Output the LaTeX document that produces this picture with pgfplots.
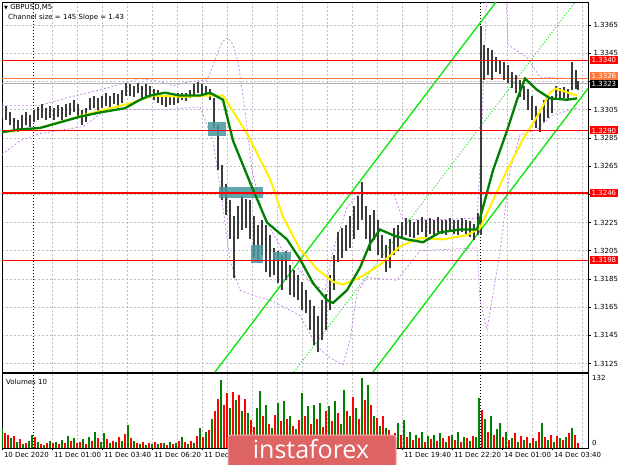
\documentclass[border=0pt]{standalone}
\usepackage{pgfplots}
\usepackage{pgfplotstable}
\pgfplotsset{compat=1.18}
\usepackage{fontspec}
\setmainfont{DejaVu Sans}
\newfontfamily\logofont{Open Sans}
\newcommand\fs{\fontsize{7}{8}\selectfont}

\definecolor{mag}{RGB}{0,128,0}
\definecolor{may}{RGB}{255,240,0}
\definecolor{chg}{RGB}{20,230,20}
\definecolor{bb}{RGB}{195,130,235}
\definecolor{barc}{RGB}{60,60,60}
\definecolor{tealbox}{RGB}{72,152,158}
\definecolor{lvl}{RGB}{255,0,0}
\definecolor{ora}{RGB}{255,120,60}
\definecolor{vg}{RGB}{0,128,0}
\definecolor{vr}{RGB}{255,0,0}
\definecolor{logo}{RGB}{222,100,100}

% price bars: x = pixel offset from left edge, high / low
\pgfplotstableread{
x hi lo
0 1.3310 1.3299
4 1.3308 1.3298
8 1.3303 1.3294
12 1.3299 1.3291
16 1.3298 1.3289
20 1.3301 1.3292
24 1.3303 1.3294
28 1.3301 1.3293
32 1.3305 1.3296
36 1.3307 1.3298
40 1.3309 1.3299
44 1.3306 1.3298
48 1.3308 1.3299
52 1.3306 1.3298
56 1.3308 1.3300
60 1.3307 1.3298
64 1.3309 1.3300
68 1.3310 1.3301
72 1.3312 1.3303
76 1.3309 1.3300
80 1.3305 1.3294
84 1.3306 1.3296
88 1.3313 1.3305
92 1.3315 1.3306
96 1.3313 1.3303
100 1.3315 1.3306
104 1.3317 1.3308
108 1.3315 1.3307
112 1.3317 1.3309
116 1.3316 1.3308
120 1.3319 1.3310
124 1.3324 1.3315
128 1.3323 1.3315
132 1.3322 1.3314
136 1.3324 1.3317
140 1.3322 1.3313
144 1.3323 1.3315
148 1.3322 1.3313
152 1.3320 1.3312
156 1.3319 1.3310
160 1.3315 1.3308
164 1.3314 1.3307
168 1.3315 1.3308
172 1.3315 1.3308
176 1.3317 1.3310
180 1.3317 1.3312
184 1.3317 1.3311
188 1.3319 1.3313
192 1.3323 1.3315
196 1.3325 1.3317
200 1.3323 1.3316
204 1.3322 1.3315
208 1.3320 1.3312
212 1.3313 1.3292
216 1.3294 1.3262
220 1.3266 1.3241
224 1.3252 1.3230
228 1.3241 1.3213
232 1.3230 1.3186
236 1.3237 1.3213
240 1.3244 1.3220
244 1.3242 1.3221
248 1.3241 1.3213
252 1.3230 1.3200
256 1.3223 1.3197
260 1.3227 1.3202
264 1.3223 1.3190
268 1.3216 1.3186
272 1.3207 1.3188
276 1.3205 1.3182
280 1.3202 1.3177
284 1.3205 1.3184
288 1.3195 1.3174
292 1.3191 1.3172
296 1.3188 1.3170
300 1.3183 1.3163
304 1.3177 1.3161
308 1.3170 1.3149
312 1.3166 1.3138
316 1.3159 1.3133
320 1.3170 1.3142
324 1.3174 1.3149
328 1.3188 1.3163
332 1.3202 1.3177
336 1.3218 1.3197
340 1.3221 1.3200
344 1.3223 1.3205
348 1.3230 1.3207
352 1.3237 1.3213
356 1.3244 1.3220
360 1.3254 1.3227
364 1.3237 1.3213
368 1.3230 1.3205
372 1.3234 1.3213
376 1.3227 1.3202
380 1.3216 1.3200
384 1.3209 1.3190
388 1.3213 1.3193
392 1.3221 1.3202
396 1.3223 1.3205
400 1.3225 1.3214
404 1.3228 1.3216
408 1.3227 1.3215
412 1.3225 1.3214
416 1.3227 1.3216
420 1.3229 1.3218
424 1.3227 1.3215
428 1.3228 1.3217
432 1.3227 1.3215
436 1.3229 1.3218
440 1.3227 1.3217
444 1.3227 1.3216
448 1.3228 1.3218
452 1.3227 1.3217
456 1.3227 1.3216
460 1.3228 1.3218
464 1.3227 1.3217
468 1.3226 1.3215
472 1.3224 1.3213
476 1.3232 1.3216
479 1.3364 1.3216
482 1.3351 1.3326
486 1.3349 1.3330
490 1.3347 1.3326
494 1.3342 1.3332
498 1.3340 1.3330
502 1.3339 1.3326
506 1.3337 1.3324
510 1.3332 1.3320
514 1.3330 1.3317
518 1.3326 1.3314
522 1.3322 1.3312
526 1.3320 1.3305
530 1.3315 1.3298
534 1.3308 1.3292
538 1.3303 1.3289
542 1.3312 1.3296
546 1.3313 1.3299
550 1.3315 1.3303
554 1.3322 1.3312
558 1.3320 1.3313
562 1.3321 1.3313
566 1.3320 1.3312
570 1.3339 1.3319
574 1.3333 1.3320
576 1.3325 1.3319
}\bars

\pgfplotstableread{
x y
0 1.3289
18 1.3291
38 1.3292
58 1.3296
78 1.3300
98 1.3303
123 1.3306
138 1.3312
148 1.3315
163 1.3317
178 1.3315
198 1.3315
208 1.3317
213 1.3315
221 1.3312
231 1.3283
250 1.3250
265 1.3225
285 1.3213
298 1.3199
311 1.3182
325 1.3170
331 1.3168
345 1.3177
358 1.3193
368 1.3210
378 1.3220
391 1.3216
405 1.3213
421 1.3211
438 1.3218
458 1.3220
475 1.3220
491 1.3262
505 1.3290
515 1.3312
523 1.3327
535 1.3319
548 1.3313
565 1.3312
575 1.3313
}\magreen

\pgfplotstableread{
x y
0 1.3289
38 1.3292
81 1.3301
131 1.3310
151 1.3315
181 1.3314
205 1.3315
221 1.3315
245 1.3288
268 1.3256
281 1.3229
298 1.3206
315 1.3192
331 1.3183
341 1.3181
358 1.3186
378 1.3195
398 1.3208
418 1.3214
441 1.3213
465 1.3216
478 1.3221
505 1.3262
521 1.3284
535 1.3300
548 1.3317
553 1.3320
575 1.3315
}\mayellow

\pgfplotstableread{
x y
0 1.3308
38 1.3308
68 1.3314
98 1.3319
138 1.3327
158 1.3325
171 1.3322
188 1.3325
205 1.3326
213 1.3340
220 1.3353
226 1.3356
231 1.3351
236 1.3339
243 1.3305
250 1.3262
261 1.3230
283 1.3202
311 1.3181
323 1.3177
331 1.3205
345 1.3236
358 1.3246
391 1.3246
401 1.3227
438 1.3227
475 1.3228
479 1.3276
483 1.3354
486 1.3404
503 1.3404
506 1.3351
525 1.3342
538 1.3328
575 1.3327
}\bbup

\pgfplotstableread{
x y
0 1.3273
18 1.3283
38 1.3288
81 1.3293
108 1.3307
131 1.3305
165 1.3305
198 1.3307
211 1.3283
220 1.3241
228 1.3198
238 1.3177
248 1.3174
268 1.3170
298 1.3159
315 1.3137
328 1.3129
341 1.3124
348 1.3142
355 1.3175
365 1.3186
395 1.3184
418 1.3205
475 1.3207
478 1.3170
485 1.3149
498 1.3204
508 1.3262
518 1.3287
535 1.3291
550 1.3301
575 1.3306
}\bblow

% volumes: x, value, colour (1 green, 0 red)
\pgfplotstableread{
x v c
0 38 1
3 28 0
6 25 0
9 18 1
12 22 0
15 12 1
18 16 0
21 8 1
24 10 0
27 14 1
30 24 1
33 20 0
36 12 1
39 8 0
42 6 1
45 10 0
48 14 1
51 9 0
54 12 1
57 8 0
60 15 1
63 10 0
66 22 1
69 14 0
72 18 1
75 9 0
78 12 0
81 16 1
84 8 0
87 20 1
90 14 0
93 30 1
96 18 0
99 12 1
102 28 1
105 16 0
108 10 1
111 14 0
114 12 1
117 20 0
120 14 1
123 26 0
126 44 1
129 18 0
132 14 1
135 10 0
138 8 1
141 12 0
144 6 1
147 10 0
150 8 1
153 12 0
156 7 1
159 10 0
162 9 1
165 6 0
168 12 1
171 8 0
174 10 1
177 14 0
180 20 1
183 11 0
186 8 1
189 14 0
192 10 1
195 22 0
198 38 1
201 20 0
204 30 1
207 34 0
210 55 1
213 70 0
216 92 0
219 128 1
222 80 0
225 104 0
228 75 1
231 105 0
234 90 1
237 100 0
240 70 1
243 92 0
246 66 1
249 53 0
252 40 0
255 75 1
258 107 1
261 60 0
264 81 1
267 45 0
270 38 1
273 62 0
276 85 1
279 50 0
282 89 1
285 55 0
288 60 1
291 42 0
294 35 1
297 53 0
300 104 1
303 60 0
306 79 1
309 45 0
312 81 1
315 55 0
318 85 1
321 40 0
324 70 0
327 79 1
330 50 0
333 88 1
336 65 0
339 45 1
342 109 1
345 70 0
348 60 1
351 95 0
354 75 1
357 55 0
360 132 1
363 90 0
366 119 1
369 80 0
372 60 1
375 57 0
378 42 1
381 60 0
384 38 1
387 34 0
390 20 1
393 28 0
396 47 1
399 25 0
402 53 1
405 20 0
408 30 1
411 15 0
414 25 1
417 18 0
420 30 1
423 12 0
426 22 1
429 16 0
432 25 1
435 14 0
438 28 1
441 18 0
444 12 1
447 22 0
450 25 1
453 15 0
456 30 1
459 12 0
462 20 1
465 18 0
468 14 1
471 22 0
474 20 1
477 94 1
480 72 0
483 55 1
486 30 0
489 60 1
492 25 0
495 35 1
498 47 1
501 20 0
504 30 1
507 15 0
510 18 1
513 28 0
516 12 1
519 22 0
522 15 1
525 20 0
528 10 1
531 18 0
534 14 1
537 30 0
540 47 1
543 20 0
546 15 1
549 25 0
552 12 1
555 22 0
558 18 1
561 15 0
564 20 1
567 28 0
570 38 1
573 25 0
576 10 0
}\vol

\pgfplotsset{
  chart/.style={scale only axis, width=586pt, xmin=0, xmax=586,
    axis line style={black, line width=0.6pt},
    tick style={black, line width=0.5pt},
    grid style={gray!50, dash pattern=on 2pt off 2pt, line width=0.5pt},
    tick align=outside},
}

\begin{document}
\begin{tikzpicture}
\useasboundingbox[fill=white] (0,0) rectangle (620pt,-465pt);

% ---- price panel ----
\begin{axis}[chart, at={(2pt,-372pt)}, anchor=south west, height=370pt,
  ymin=1.31190, ymax=1.33813,
  xtick={50,75,...,450,505,530,555,580}, xticklabels={}, xtick style={draw=none},
  xmajorgrids, ymajorgrids,
  ytick={1.3125,1.3145,1.3165,1.3185,1.3205,1.3225,1.3245,1.3265,1.3285,1.3305,1.3325,1.3345,1.3365},
  yticklabels={1.3125,1.3145,1.3165,1.3185,1.3205,1.3225,,1.3265,1.3285,1.3305,,1.3345,1.3365},
  ytick pos=right, yticklabel pos=right, major tick length=3pt,
  yticklabel style={font=\fs, xshift=-1pt},
]
% day separators
\addplot[black, dotted, line width=1pt] coordinates {(31,1.3110) (31,1.3390)};
\addplot[black, dotted, line width=1pt] coordinates {(478,1.3110) (478,1.3390)};
% envelope bands
\addplot[bb, dash pattern=on 2pt off 2pt, line width=0.7pt] table {\bbup};
\addplot[bb, dash pattern=on 2pt off 2pt, line width=0.7pt] table {\bblow};
% channel
\addplot[chg, line width=1.4pt] coordinates {(213,1.31190) (494,1.33813)};
\addplot[chg, line width=1.4pt] coordinates {(371,1.31190) (586,1.33200)};
\addplot[chg, dotted, line width=1pt] coordinates {(292,1.31190) (573,1.33813)};
% levels
\addplot[gray!60, line width=0.5pt] coordinates {(0,1.3324) (586,1.3324)};
\addplot[ora, line width=0.6pt] coordinates {(0,1.3327) (586,1.3327)};
% price bars
\addplot[draw=none, mark=none,
  error bars/.cd, y dir=both, y explicit, error mark=none,
  error bar style={draw=barc, line width=1.5pt}]
  table[x=x, y expr=(\thisrow{hi}+\thisrow{lo})/2,
        y error expr=(\thisrow{hi}-\thisrow{lo})/2] {\bars};
% marked zones
\fill[tealbox, opacity=0.85] (axis cs:206,1.3296) rectangle (axis cs:224,1.3286);
\fill[tealbox, opacity=0.85] (axis cs:217,1.3250) rectangle (axis cs:261,1.3242);
\fill[tealbox, opacity=0.85] (axis cs:249,1.3209) rectangle (axis cs:261,1.3196);
\fill[tealbox, opacity=0.85] (axis cs:271,1.3204) rectangle (axis cs:289,1.3198);
% moving averages
\addplot[may, line width=2pt] table {\mayellow};
\addplot[mag, line width=2.3pt] table {\magreen};
% support / resistance
\addplot[lvl, line width=1.4pt] coordinates {(0,1.3340) (586,1.3340)};
\addplot[lvl, line width=1.4pt] coordinates {(0,1.3290) (586,1.3290)};
\addplot[lvl, line width=1.4pt] coordinates {(0,1.3246) (586,1.3246)};
\addplot[lvl, line width=1.4pt] coordinates {(0,1.3198) (586,1.3198)};
\end{axis}

% ---- volume panel ----
\begin{axis}[chart, at={(2pt,-448pt)}, anchor=south west, height=75pt,
  ymin=0, ymax=141, ytick=\empty,
  xtick={0,50,...,550}, xtick pos=bottom, major tick length=2pt,
  xticklabels={10 Dec 2020,11 Dec 01:00,11 Dec 03:40,11 Dec 06:20,11 Dec 09:00,,,,11 Dec 19:40,11 Dec 22:20,14 Dec 01:00,14 Dec 03:40},
  xticklabel style={font=\fs, anchor=north west, xshift=-1.5pt, yshift=1pt},
  extra x ticks={50,75,...,450,505,530,555,580}, extra x tick labels={},
  extra x tick style={grid=major, major tick length=0pt},
]
\addplot[black, dotted, line width=1pt] coordinates {(31,0) (31,141)};
\addplot[black, dotted, line width=1pt] coordinates {(478,0) (478,141)};
\addplot[ycomb, vg, line width=2.7pt, mark=none,
  restrict expr to domain={\thisrow{c}}{0.5:1.5}] table[x=x, y=v] {\vol};
\addplot[ycomb, vr, line width=2.7pt, mark=none,
  restrict expr to domain={\thisrow{c}}{-0.5:0.5}] table[x=x, y=v] {\vol};
\end{axis}

% ---- texts and price tags ----
\node[anchor=west, font=\fs, inner sep=0pt] at (4pt,-7pt) {{\fontsize{5}{6}\selectfont ▼} GBPUSD,M5};
\node[anchor=west, font=\fs, inner sep=0pt] at (8pt,-18pt) {Channel size = 145 Slope = 1.43};
\node[anchor=west, font=\fs, inner sep=0pt] at (6pt,-382pt) {Volumes 10};
\node[anchor=west, font=\fs, inner sep=0pt] at (592pt,-378pt) {132};
\node[anchor=west, font=\fs, inner sep=0pt] at (592pt,-443pt) {0};

\tikzset{tag/.style={anchor=west, font=\fs, text=white, inner xsep=1.5pt, inner ysep=0pt, minimum height=8pt}}
\node[tag, fill=lvl] at (590pt,-60pt) {1.3340};
\node[tag, fill=lvl] at (590pt,-130.5pt) {1.3290};
\node[tag, fill=lvl] at (590pt,-192.5pt) {1.3246};
\node[tag, fill=lvl] at (590pt,-260pt) {1.3198};
\node[tag, fill=ora] at (590pt,-76pt) {1.3326};
\node[tag, fill=black] at (590pt,-84pt) {1.3323};

% ---- watermark ----
\draw[rounded corners=3pt, fill=logo, draw=logo!55!white, line width=1pt]
  (228pt,-435pt) rectangle (396pt,-472pt);
\node[text=white, font=\logofont\fontsize{25}{27}\selectfont] at (311pt,-449pt) {instaforex};
\end{tikzpicture}
\end{document}
